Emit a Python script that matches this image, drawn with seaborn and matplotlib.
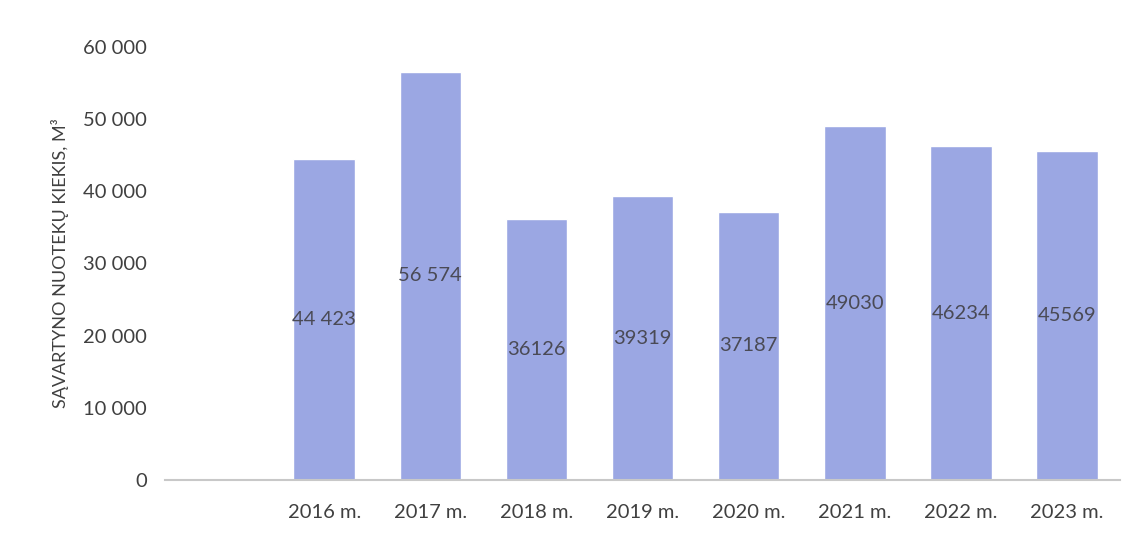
import pandas as pd
import matplotlib
matplotlib.use("Agg")
import matplotlib.pyplot as plt
import seaborn as sns

years = ["2016 m.", "2017 m.", "2018 m.", "2019 m.", "2020 m.", "2021 m.", "2022 m.", "2023 m."]
volumes = [44423, 56574, 36126, 39319, 37187, 49030, 46234, 45569]
value_labels = ["44 423", "56 574", "36126", "39319", "37187", "49030", "46234", "45569"]
y_ticks = [0, 10000, 20000, 30000, 40000, 50000, 60000]
y_tick_labels = ["0", "10 000", "20 000", "30 000", "40 000", "50 000", "60 000"]

df = pd.DataFrame({"Metai": years, "Kiekis": volumes})

sns.set_theme(style="white")
plt.rcParams["font.family"] = ["Lato", "DejaVu Sans"]

fig = plt.figure(figsize=(11.43, 5.46), dpi=100)
ax = fig.add_axes([0.1444, 0.121, 0.8356, 0.793])

sns.barplot(data=df, x="Metai", y="Kiekis", color="#9ba7e3", width=0.58,
            saturation=1, ax=ax)

# labels sit in the middle of each bar
for i, (v, lab) in enumerate(zip(volumes, value_labels)):
    ax.text(i, v / 2, lab, ha="center", va="center", fontsize=14.5, color="#4a4a55")

ax.set_xlim(-1.5, 7.5)
ax.set_ylim(0, 60000)
ax.set_yticks(y_ticks)
ax.set_yticklabels(y_tick_labels)
ax.tick_params(axis="both", length=0, labelsize=14.5, labelcolor="#404040")
ax.tick_params(axis="y", pad=13)
ax.tick_params(axis="x", pad=17)
ax.set_xlabel("")
ax.set_ylabel("SĄVARTYNO NUOTEKŲ KIEKIS, M³", fontsize=13, color="#404040", labelpad=10)

for side in ["top", "right", "left"]:
    ax.spines[side].set_visible(False)
ax.spines["bottom"].set_color("#c8c8c8")
ax.spines["bottom"].set_linewidth(1.5)

fig.savefig("out.png", dpi=100)
